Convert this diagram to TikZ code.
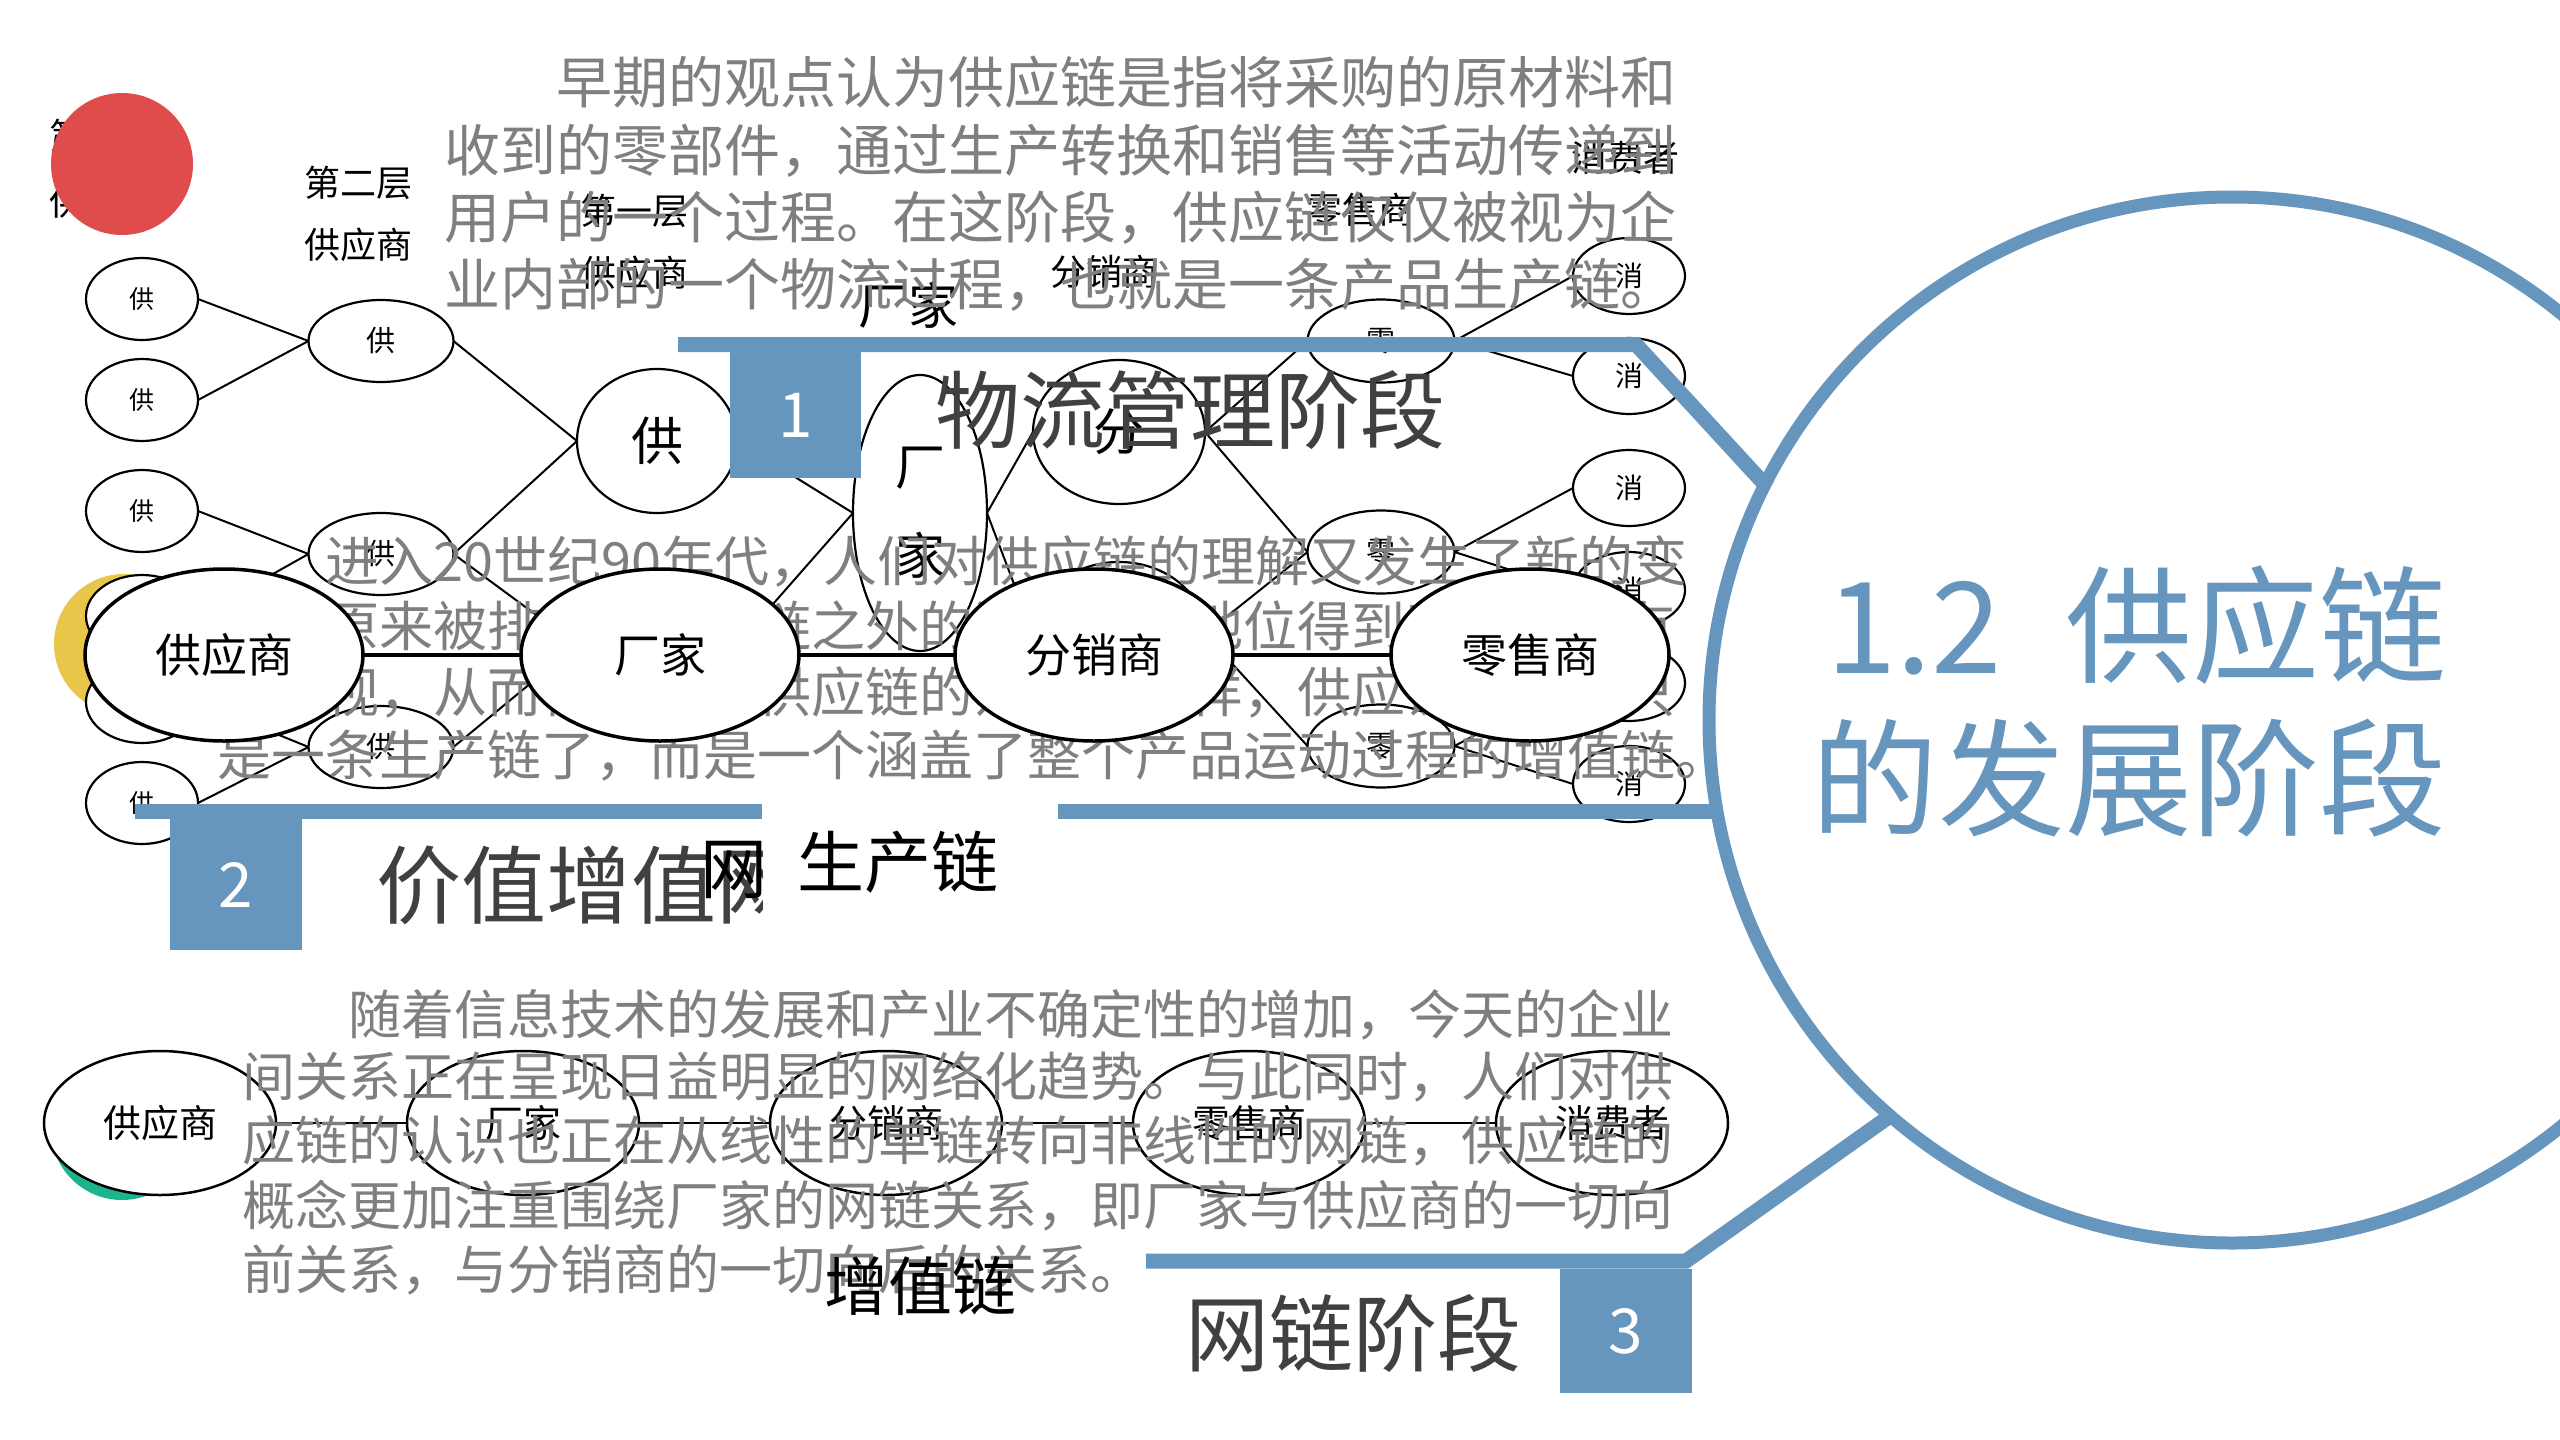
\documentclass[tikz,border=0pt]{standalone}
\usepackage{fontspec}
\setmainfont{Noto Sans CJK SC}
\usetikzlibrary{shapes.geometric}
\definecolor{sblue}{RGB}{102,150,190}
\definecolor{gtext}{RGB}{127,127,127}
\definecolor{dtext}{RGB}{64,64,64}
\definecolor{cred}{RGB}{224,76,76}
\definecolor{cyel}{RGB}{233,197,74}
\definecolor{cgrn}{RGB}{26,181,140}
\newcommand{\myfs}[1]{\fontsize{#1}{#1}\selectfont}
\begin{document}
\begin{tikzpicture}[x=1pt,y=-1pt,
  tre/.style={ellipse,draw=black,line width=2.2pt,fill=white,inner sep=0pt,outer sep=0pt},
  sA/.style={tre,minimum width=112pt,minimum height=82pt,font=\myfs{25}},
  sB/.style={tre,minimum width=145pt,minimum height=82pt,font=\myfs{29}},
  sC/.style={tre,minimum width=160pt,minimum height=144pt,font=\myfs{52}},
  sD/.style={tre,minimum width=134pt,minimum height=276pt,align=center,font=\fontsize{50}{89}\selectfont},
  sE/.style={tre,minimum width=172pt,minimum height=144pt,font=\myfs{51}},
  sF/.style={tre,minimum width=147pt,minimum height=83pt,font=\myfs{29}},
  sG/.style={tre,minimum width=112pt,minimum height=76pt,font=\myfs{28}},
  conn/.style={draw=black,line width=2pt},
  bigE/.style={ellipse,draw=black,line width=3.5pt,fill=white,minimum width=278pt,minimum height=172pt,inner sep=0pt,outer sep=0pt,font=\myfs{46}},
  botE/.style={ellipse,draw=black,line width=2.5pt,fill=white,minimum width=232pt,minimum height=144pt,inner sep=0pt,outer sep=0pt,font=\myfs{38}},
  hdr/.style={inner sep=0pt,font=\myfs{36}},
  gline/.style={anchor=base west,inner sep=0pt,text=gtext},
  bluebar/.style={draw=sblue,line width=15pt},
  numbox/.style={fill=sblue,text=white,inner sep=0pt,font=\myfs{62}},
  ttl/.style={inner sep=0pt,text=dtext,font=\myfs{85}}
]
\useasboundingbox[fill=white] (0,0) rectangle (2560,1440);

% column headers
\node[hdr] (h3a) at (103,136) {第三层};
\node[hdr] (h3b) at (103,202) {供应商};
\node[hdr] (h2a) at (358,183) {第二层};
\node[hdr] (h2b) at (358,245) {供应商};
\node[hdr] (h1a) at (634,211) {第一层};
\node[hdr] (h1b) at (634,273) {供应商};
\node[hdr,font=\myfs{50}] (hf) at (908,305) {厂家};
\node[hdr] (hd) at (1104,272) {分销商};
\node[hdr] (hr) at (1360,210) {零售商};
\node[hdr] (hc) at (1625,158) {消费者};

% decorative circles
\fill[cred] (122,164) circle (71pt);
\fill[cyel] (124,644) circle (70pt);

% tree
\node[sA] (A1) at (142,299) {供};
\node[sA] (A2) at (142,400) {供};
\node[sA] (A3) at (142,511) {供};
\node[sA] (A4) at (142,616) {供};
\node[sA] (A5) at (142,702) {供};
\node[sA] (A6) at (142,803) {供};
\node[sB] (B1) at (381,341) {供};
\node[sB] (B2) at (381,554) {供};
\node[sB] (B3) at (381,747) {供};
\node[sC] (C1) at (657,441) {供};
\node[sC] (C2) at (657,645) {供};
\node[sD] (D) at (920,513) {厂\\家};
\node[sE] (E1) at (1119,432) {分};
\node[sE] (E2) at (1119,634) {分};
\node[sF] (F1) at (1381,341) {零};
\node[sF] (F2) at (1381,552) {零};
\node[sF] (F3) at (1381,746) {零};
\node[sG] (G1) at (1629,276) {消};
\node[sG] (G2) at (1629,376) {消};
\node[sG] (G3) at (1629,488) {消};
\node[sG] (G4) at (1629,590) {消};
\node[sG] (G5) at (1629,683) {消};
\node[sG] (G6) at (1629,784) {消};
\draw[conn] (A1.east) -- (B1.west) (A2.east) -- (B1.west)
            (A3.east) -- (B2.west) (A4.east) -- (B2.west)
            (A5.east) -- (B3.west) (A6.east) -- (B3.west)
            (B1.east) -- (C1.west) (B2.east) -- (C1.west)
            (B2.east) -- (C2.west) (B3.east) -- (C2.west)
            (C1.east) -- (D.west) (C2.east) -- (D.west)
            (D.east) -- (E1.west) (D.east) -- (E2.west)
            (E1.east) -- (F1.west) (E1.east) -- (F2.west)
            (E2.east) -- (F2.west) (E2.east) -- (F3.west)
            (F1.east) -- (G1.west) (F1.east) -- (G2.west)
            (F2.east) -- (G3.west) (F2.east) -- (G4.west)
            (F3.east) -- (G5.west) (F3.east) -- (G6.west);

% paragraph 1
\node[gline,font=\myfs{56}] (p1a) at (556,103) {早期的观点认为供应链是指将采购的原材料和};
\node[gline,font=\myfs{56}] (p1b) at (444,171) {收到的零部件，通过生产转换和销售等活动传递到};
\node[gline,font=\myfs{56}] (p1c) at (444,238) {用户的一个过程。在这阶段，供应链仅仅被视为企};
\node[gline,font=\myfs{56}] (p1d) at (444,305) {业内部的一个物流过程，也就是一条产品生产链。};
% paragraph 2
\node[gline,font=\myfs{54}] (p2a) at (325,581) {进入20世纪90年代，人们对供应链的理解又发生了新的变};
\node[gline,font=\myfs{54}] (p2b) at (217,646) {化，原来被排斥在供应链之外的消费者的地位得到了前所未有};
\node[gline,font=\myfs{54}] (p2c) at (217,712) {的重视，从而被纳入了供应链的范围。这样，供应链就不再只};
\node[gline,font=\myfs{54}] (p2d) at (217,775) {是一条生产链了，而是一个涵盖了整个产品运动过程的增值链。};

% production chain
\node[bigE] (S) at (224,655) {供应商};
\node[bigE] (M) at (660,655) {厂家};
\node[bigE] (Dd) at (1094,655) {分销商};
\node[bigE] (R) at (1530,655) {零售商};
\draw[line width=3.5pt] (S.east) -- (M.west) (M.east) -- (Dd.west) (Dd.east) -- (R.west);
\node[inner sep=0pt,font=\myfs{67}] (scl) at (898,862) {生产链};

% value chain
\fill[cgrn] (122,1129) circle (71pt);
\node[botE] (b1) at (160,1123) {供应商};
\node[botE] (b2) at (523,1123) {厂家};
\node[botE] (b3) at (886,1123) {分销商};
\node[botE] (b4) at (1249,1123) {零售商};
\node[botE] (b5) at (1612,1123) {消费者};
\draw[line width=2pt] (b1.east) -- (b2.west) (b2.east) -- (b3.west) (b3.east) -- (b4.west) (b4.east) -- (b5.west);

% paragraph 3
\node[gline,font=\myfs{53}] (p3a) at (348,1034) {随着信息技术的发展和产业不确定性的增加，今天的企业};
\node[gline,font=\myfs{53}] (p3b) at (242,1096) {间关系正在呈现日益明显的网络化趋势。与此同时，人们对供};
\node[gline,font=\myfs{53}] (p3c) at (242,1160) {应链的认识也正在从线性的单链转向非线性的网链，供应链的};
\node[gline,font=\myfs{53}] (p3d) at (242,1225) {概念更加注重围绕厂家的网链关系，即厂家与供应商的一切向};
\node[gline,font=\myfs{53}] (p3e) at (242,1289) {前关系，与分销商的一切向后的关系。};
\node[inner sep=0pt,font=\myfs{64}] (vcl) at (920,1286) {增值链};

% blue frame
\draw[bluebar,line join=miter] (678,344.5) -- (1636,344.5) -- (1768,488);
\draw[bluebar] (135,811.5) -- (762,811.5);
\draw[bluebar] (1058,811.5) -- (1716,811.5);
\draw[bluebar,line join=miter] (1146,1261) -- (1686,1261) -- (1890,1116);
\node[numbox,minimum width=131pt,minimum height=126pt] (n1) at (795.5,415) {1};
\node[numbox,minimum width=132pt,minimum height=131pt] (n2) at (236,884.5) {2};
\node[numbox,minimum width=132pt,minimum height=124pt] (n3) at (1626,1331) {3};

% stage titles
\node[ttl] (t1) at (1190,410) {物流管理阶段};
\begin{scope}
\clip (0,0) rectangle (762,1440);
\node[ttl,anchor=west] (t2) at (376,885) {价值增值网};
\node[inner sep=0pt,anchor=west,font=\myfs{67}] (t2b) at (700,870) {网};
\end{scope}
\node[ttl,font=\myfs{84}] (t3) at (1353,1333) {网链阶段};

% ring
\draw[sblue,line width=13pt] (2232,720) circle (523pt);
\node[inner sep=0pt,anchor=east,text=sblue,font=\myfs{127}] (r1) at (2447,625) {1.2\hspace{0.5em}供应链};
\node[inner sep=0pt,anchor=east,text=sblue,font=\myfs{127}] (r2) at (2447,778) {的发展阶段};
\end{tikzpicture}
\end{document}
